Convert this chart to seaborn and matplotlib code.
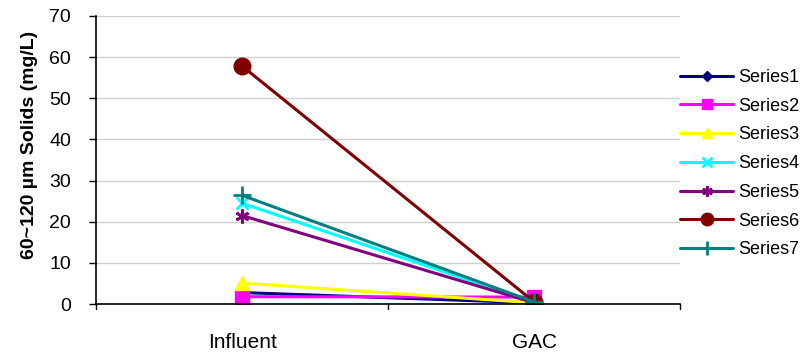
import matplotlib
matplotlib.use("Agg")
import matplotlib.pyplot as plt
import seaborn as sns
import pandas as pd

categories = ["Influent", "GAC"]
series_names = ["Series1", "Series2", "Series3", "Series4", "Series5", "Series6", "Series7"]
s1 = [2.8, 0.3]
s2 = [1.8, 1.7]
s3 = [5.1, 0.3]
s4 = [24.5, 0.4]
s5 = [21.5, 0.3]
s6 = [57.8, 0.5]
s7 = [26.4, 0.5]
values = [s1, s2, s3, s4, s5, s6, s7]
colors = ["#000080", "#FF00FF", "#FFFF00", "#00FFFF", "#800080", "#800000", "#008080"]
markers = ["D", "s", "^", "x", (6, 2, 0), "o", "+"]
msizes = [7, 10, 10, 9, 10, 12, 13]

rows = []
for name, vals in zip(series_names, values):
    for c, v in zip(categories, vals):
        rows.append({"cat": c, "val": v, "series": name})
df = pd.DataFrame(rows)
df["x"] = df["cat"].map({c: i for i, c in enumerate(categories)})

sns.set_style("white")
plt.rcParams["font.family"] = ["Liberation Sans", "DejaVu Sans"]
plt.rcParams["text.color"] = "black"
plt.rcParams["axes.labelcolor"] = "black"
plt.rcParams["xtick.color"] = "black"
plt.rcParams["ytick.color"] = "black"

fig = plt.figure(figsize=(8.08, 3.54), dpi=100)
ax = fig.add_axes([0.119, 0.141, 0.723, 0.814])

for name, col, mk, ms in zip(series_names, colors, markers, msizes):
    sub = df[df["series"] == name]
    thin = isinstance(mk, tuple) or mk in ("x", "+")
    sns.lineplot(data=sub, x="x", y="val", ax=ax, color=col, marker=mk,
                 markersize=ms, linewidth=2.2, label=name,
                 markeredgecolor=col, markeredgewidth=2 if thin else 1)

ax.set_xlim(-0.5, 1.5)
ax.set_ylim(0, 70)
ax.set_yticks(range(0, 71, 10))
ax.set_xticks([0, 1])
ax.set_xticklabels(categories, fontsize=15)
ax.tick_params(axis="y", labelsize=14, length=5, direction="out", left=True, width=1, pad=13)
ax.tick_params(axis="x", length=0, pad=21)
for b in [-0.5, 0.5, 1.5]:
    ax.plot([b, b], [0, -1.3], color="black", lw=1, clip_on=False)
ax.grid(axis="y", color="#d0d0d0", lw=1)
ax.set_axisbelow(True)
for s in ["top", "right"]:
    ax.spines[s].set_visible(False)
for s in ["left", "bottom"]:
    ax.spines[s].set_color("black")
    ax.spines[s].set_linewidth(1.2)
ax.set_xlabel("")
ax.set_ylabel("60~120 µm Solids (mg/L)", fontsize=14, fontweight="bold", color="black")
ax.yaxis.set_label_coords(-0.099, 0.552)

ax.legend(loc="upper left", bbox_to_anchor=(1.0, 0.816), frameon=False,
          fontsize=13, labelspacing=0.65, handlelength=2.9, handletextpad=0.3,
          borderpad=0, borderaxespad=0, markerscale=0.75, labelcolor="black")

fig.savefig("out.png", dpi=100)
